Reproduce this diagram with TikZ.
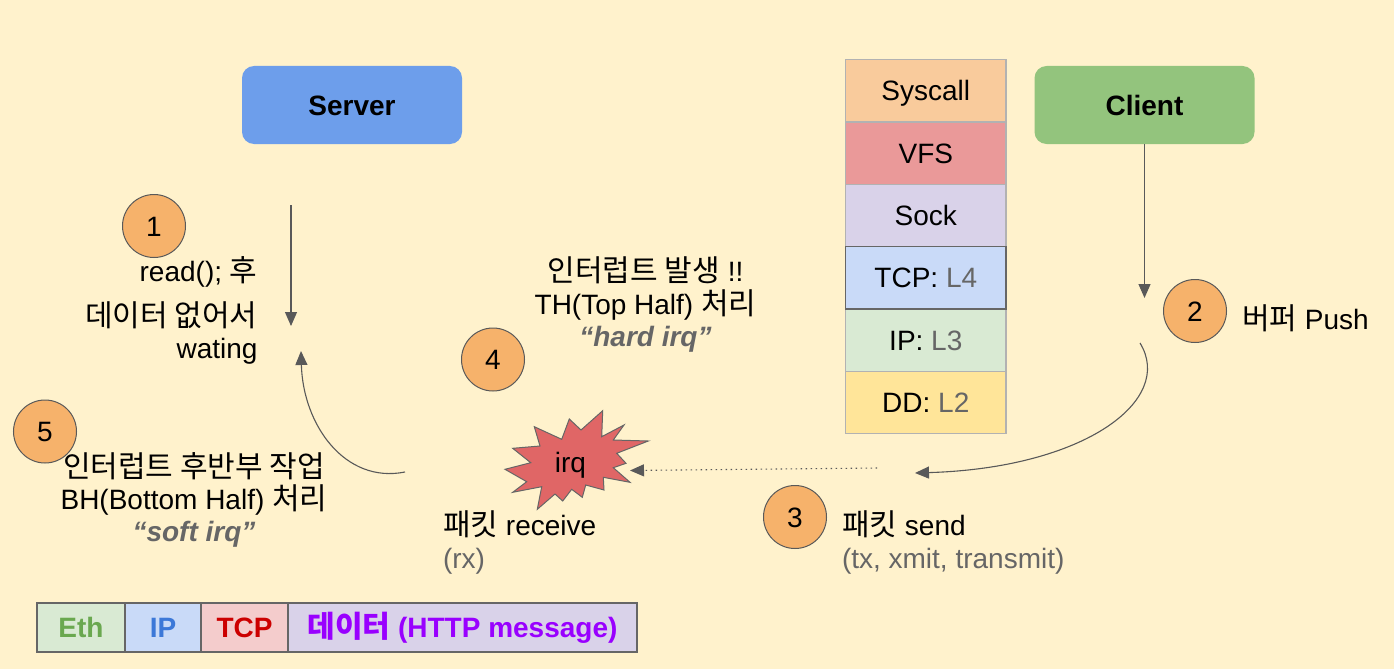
\documentclass[tikz,border=0pt]{standalone}
\usepackage{fontspec}
\setmainfont{Liberation Sans}
\newfontfamily\krfont{Noto Sans CJK KR}
\usetikzlibrary{arrows.meta}
\newcommand{\kr}[1]{{\krfont\fontsize{30}{30}\selectfont #1}}
\newcommand{\topstrut}{\rule{0pt}{22pt}}
\AtBeginDocument{\lineskiplimit=-100pt}
\definecolor{bgc}{HTML}{FFF2CC}
\definecolor{linec}{HTML}{595959}
\definecolor{grayc}{HTML}{666666}
\definecolor{badgec}{HTML}{F6B26B}
\tikzset{
  x=1pt,y=-1pt,
  txt/.style={font=\fontsize{28}{33}\selectfont,inner sep=0pt,outer sep=0pt},
  tight/.style={font=\fontsize{28}{32.5}\selectfont},
  capbox/.style={text height=20pt,text depth=0pt},
  hostbox/.style={txt,capbox,font=\fontsize{28}{33}\selectfont\bfseries,rounded corners=12pt,minimum width=220pt,minimum height=78pt,text=black},
  layer/.style={txt,capbox,draw=#1,line width=1.3pt,minimum width=160.6pt,minimum height=62.3pt,anchor=north west},
  cell/.style={txt,capbox,font=\fontsize{28}{33}\selectfont\bfseries,draw=grayc,line width=1.1pt,minimum height=49pt,anchor=north west},
  badge/.style={txt,capbox,circle,draw=linec,line width=1pt,fill=badgec,minimum size=63pt},
  conn/.style={draw=linec,line width=1.1pt,-{Triangle[length=14pt,width=12pt]}},
}
\begin{document}
\begin{tikzpicture}
\fill[bgc] (0,0) rectangle (1394,669);
\useasboundingbox (0,0) rectangle (1394,669);

% hosts
\node[hostbox,fill={rgb,255:red,109;green,158;blue,235}] (server) at (352,105) {Server};
\node[hostbox,fill={rgb,255:red,147;green,196;blue,125}] (client) at (1144.5,105) {Client};

% kernel stack
\node[layer=gray!60,fill={rgb,255:red,249;green,203;blue,156}] (l1) at (845.5,59.5) {Syscall};
\node[layer=gray!60,fill={rgb,255:red,234;green,153;blue,153}] (l2) at (845.5,122) {VFS};
\node[layer=gray!60,fill={rgb,255:red,217;green,210;blue,233}] (l3) at (845.5,184.3) {Sock};
\node[layer=gray!60,fill={rgb,255:red,255;green,229;blue,153}] (l6) at (845.5,371.3) {DD: \textcolor{grayc}{L2}};
\node[layer=gray!60,fill={rgb,255:red,217;green,234;blue,211}] (l5) at (845.5,309) {IP: \textcolor{grayc}{L3}};
\node[layer=grayc,fill={rgb,255:red,201;green,218;blue,248}] (l4) at (845.5,246.7) {TCP: \textcolor{grayc}{L4}};

% packet
\node[cell,minimum width=88pt,fill={rgb,255:red,217;green,234;blue,211},text={rgb,255:red,106;green,168;blue,79}] (eth) at (37,603) {Eth};
\node[cell,minimum width=76pt,fill={rgb,255:red,201;green,218;blue,248},text={rgb,255:red,60;green,120;blue,216}] (ip) at (125,603) {IP};
\node[cell,minimum width=87pt,fill={rgb,255:red,244;green,204;blue,204},text={rgb,255:red,204;green,0;blue,0}] (tcp) at (201,603) {TCP};
\node[cell,minimum width=349pt,fill={rgb,255:red,217;green,210;blue,233},text={rgb,255:red,153;green,0;blue,255}] (data) at (288,603) {\kr{\bfseries 데이터} (HTTP message)};

% irq burst
\draw[draw=grayc,line width=1pt,fill={rgb,255:red,224;green,102;blue,102}]
  (602.7,410.7) -- (601.7,436.7) -- (624,425) -- (613.3,440) -- (648.3,441) -- (616.7,453.3) -- (626,463.3) -- (613.3,467.7) -- (630,482.3) -- (603.3,477.3) -- (604,490) -- (585.7,485) -- (582.3,497.3) -- (571.7,489.3) -- (562.7,501) -- (555,494) -- (537.3,509.3) -- (541.7,486.7) -- (512.7,492.3) -- (526.7,481.7) -- (505,469.3) -- (530.7,462.7) -- (512.7,448.3) -- (540,446) -- (534.3,426.7) -- (561.7,439.3) -- (569.3,419) -- (581,430) -- cycle;
\node[txt,anchor=base] (irq) at (570.5,472) {irq};

% badges
\node[badge] (b1) at (154,226) {1};
\node[badge] (b2) at (1195,311) {2};
\node[badge] (b3) at (795,517) {3};
\node[badge] (b4) at (493,359.5) {4};
\node[badge] (b5) at (45,431.5) {5};

% texts
\node[txt,tight,align=right,anchor=north east] (t1) at (257.5,257) {\topstrut read(); \kr{후}\\[12.5pt]\kr{데이터 없어서}\\[-0.5pt]wating};
\node[txt,tight,align=center,anchor=north] (t4) at (645.5,257) {\topstrut\kr{인터럽트 발생} !!\\TH(Top Half) \kr{처리}\\\textcolor{grayc}{\bfseries\itshape “hard irq”}};
\node[txt,font=\fontsize{28}{32}\selectfont,align=center,anchor=north] (t5) at (194,453) {\topstrut\kr{인터럽트 후반부 작업}\\BH(Bottom Half) \kr{처리}\\\textcolor{grayc}{\bfseries\itshape “soft irq”}};
\node[txt,align=left,anchor=north west] (t6) at (443,511) {\topstrut\kr{패킷} receive\\\textcolor{grayc}{(rx)}};
\node[txt,align=left,anchor=north west] (t3) at (842,511) {\topstrut\kr{패킷} send\\\textcolor{grayc}{(tx, xmit, transmit)}};
\node[txt,anchor=base west] (t2) at (1242,329) {\kr{버퍼} Push};

% connectors
\coordinate (s1) at (291,205);
\coordinate (s2) at (291,326);
\coordinate (c2) at (1144.5,298);
\coordinate (p1) at (1140,343);
\coordinate (p2) at (915,473);
\coordinate (d1) at (877,468);
\coordinate (d2) at (630,470.5);
\coordinate (r1) at (405,472);
\coordinate (r2) at (301,351);
\draw[conn] (s1) -- (s2);
\draw[conn] (client.south) -- (c2);
\draw[conn] (p1) .. controls (1175,400) and (1085,468) .. (p2);
\draw[conn,dash pattern=on 1.3pt off 3.7pt] (d1) -- (d2);
\draw[conn] (r1) .. controls (345,484) and (303,425) .. (r2);
\end{tikzpicture}
\end{document}
